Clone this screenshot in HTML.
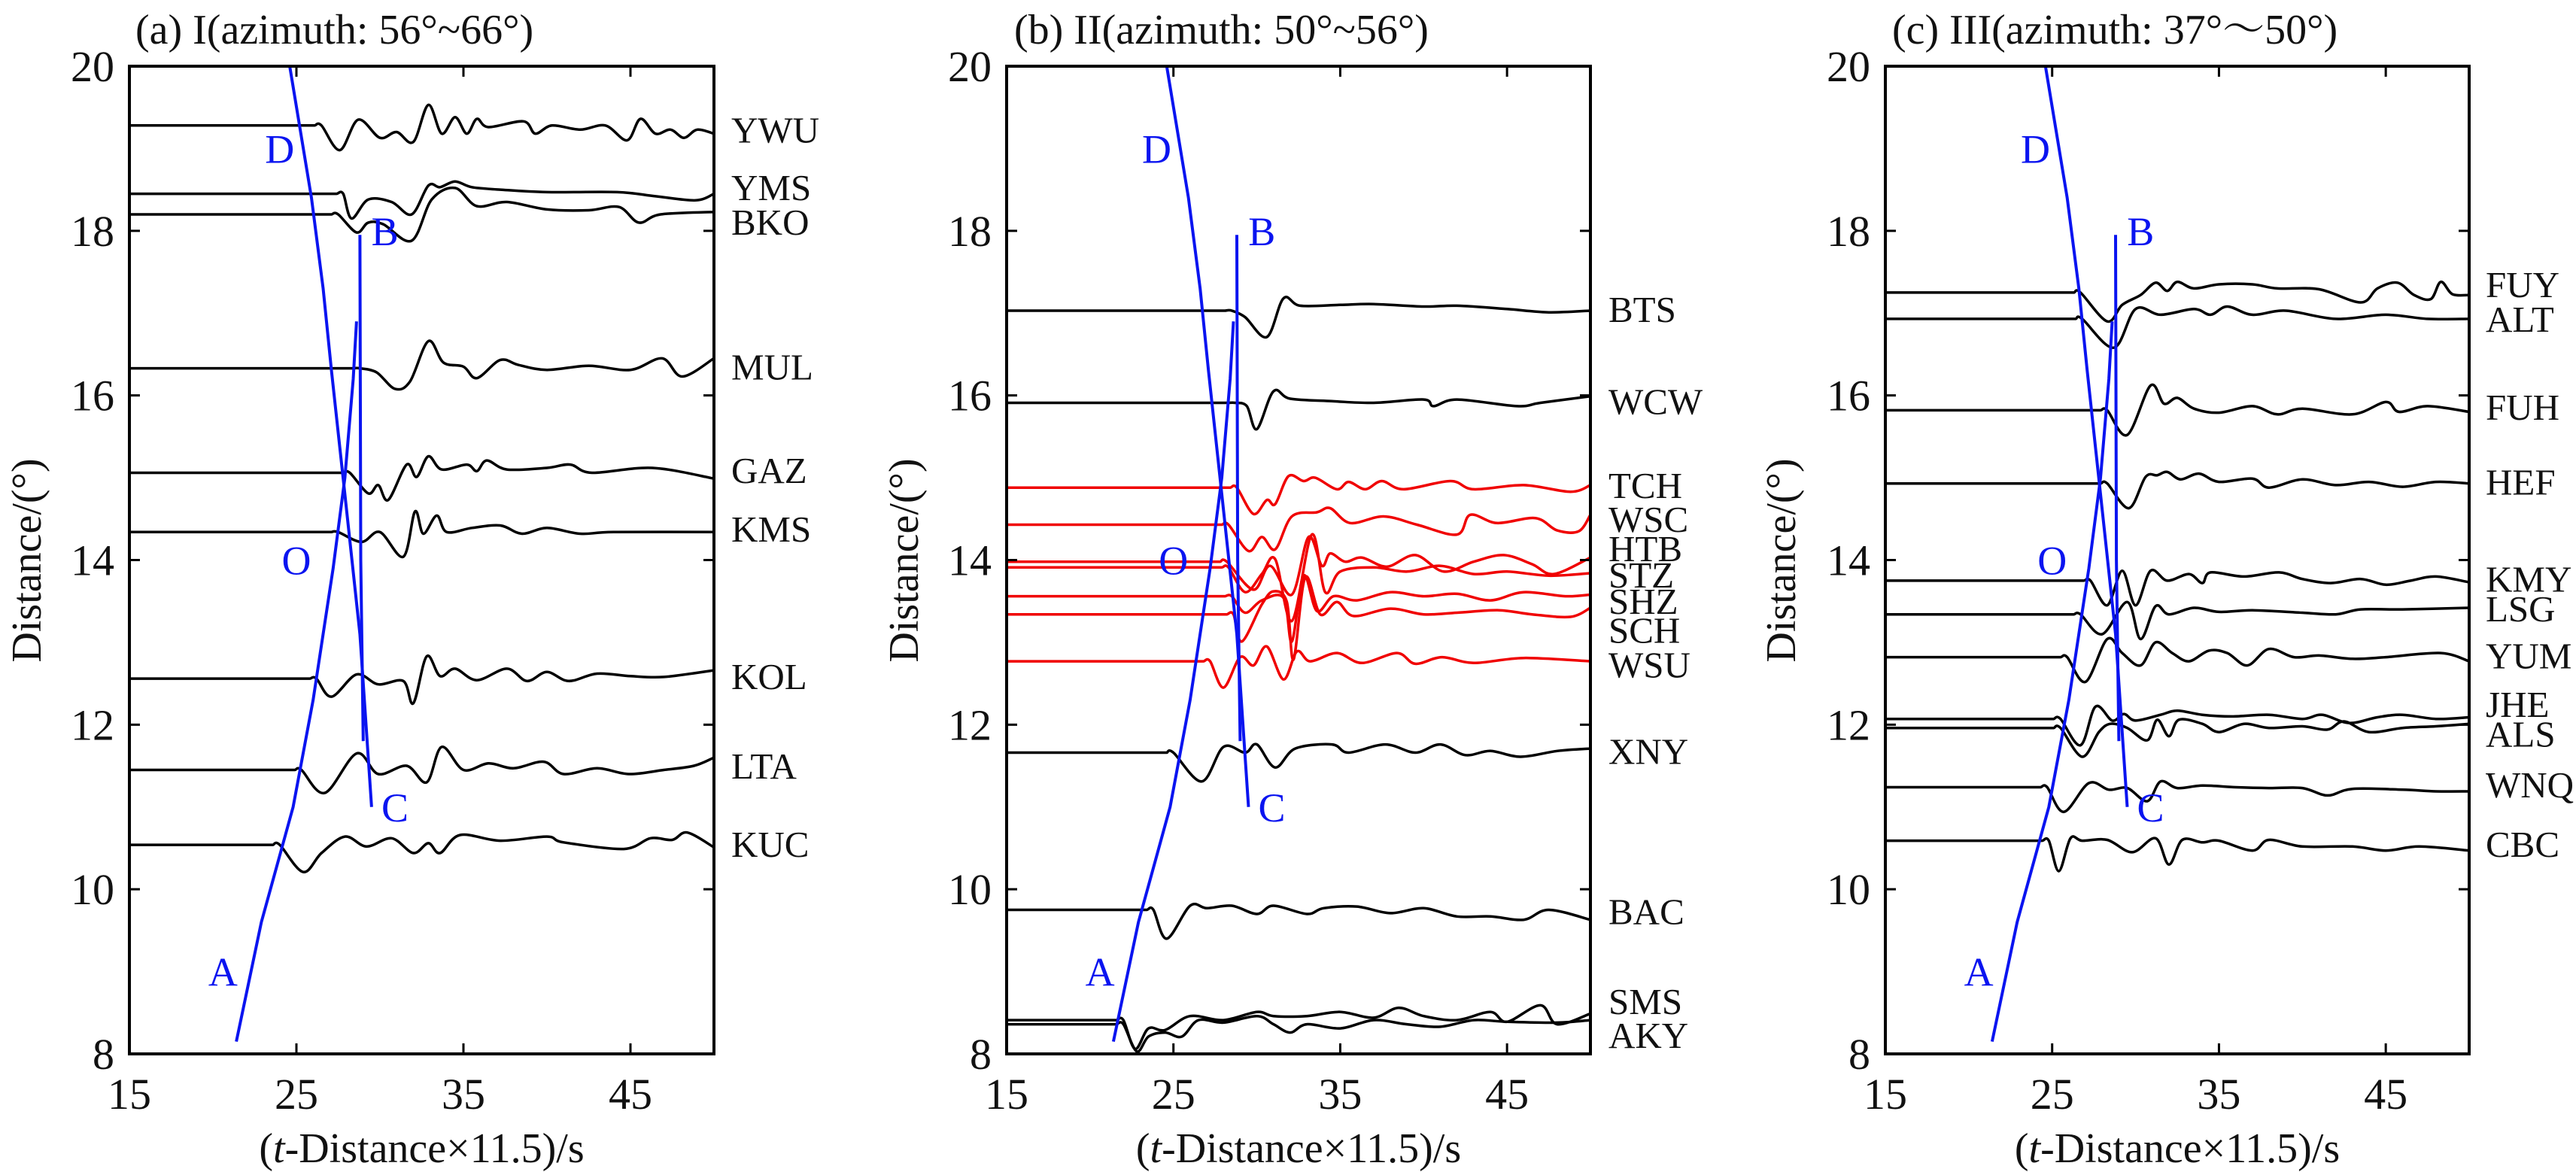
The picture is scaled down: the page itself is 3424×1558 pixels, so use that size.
<!DOCTYPE html>
<html><head><meta charset="utf-8">
<style>
html,body{margin:0;padding:0;background:#fff;}
svg{display:block;}
text{font-family:"Liberation Serif","Noto Serif CJK SC",serif;fill:#111;}
</style></head>
<body>
<svg id="chart" width="3424" height="1558" viewBox="0 0 3424 1558" xmlns="http://www.w3.org/2000/svg"></svg>
<script>
// ---- data ----
const xTicks=[15,25,35,45];
const yTicks=[8,10,12,14,16,18,20];
const panelTitles=["(a) I(azimuth: 56°~66°)","(b) II(azimuth: 50°~56°)","(c) III(azimuth: 37°～50°)"];
// panel a
const aNames=["YWU","YMS","BKO","MUL","GAZ","KMS","KOL","LTA","KUC"];
const aBase=[19.28,18.45,18.2,16.33,15.06,14.34,12.56,11.45,10.54];
const aLabelD=[19.23,18.53,18.11,16.35,15.09,14.38,12.59,11.5,10.55];
const aWaves=[
[[26.5,0],[27.6,-0.3],[28.7,0.07],[30,-0.15],[31,-0.08],[32,-0.2],[32.9,0.25],[33.7,-0.1],[34.5,0.1],[35.2,-0.1],[35.8,0.08],[36.5,-0.02],[38.6,0.05],[39.3,-0.1],[40.3,0],[42,-0.05],[43.5,0],[44.8,-0.18],[45.6,0.08],[46.5,-0.1],[47.4,-0.05],[48.2,-0.15],[49,-0.05],[50,-0.1]],
[[27.8,0],[28.3,-0.3],[29.3,-0.07],[30.7,-0.1],[31.9,-0.25],[32.9,0.1],[33.6,0.08],[34.5,0.15],[35.5,0.08],[37.2,0.05],[40,0.02],[44.2,0.02],[46.5,-0.03],[48.9,-0.08],[50,0]],
[[27.5,0],[28.6,-0.22],[29.3,-0.1],[30.2,-0.12],[31.9,-0.32],[33.1,0.18],[34.5,0.32],[35.8,0.1],[37.6,0.15],[40,0.06],[42.5,0.05],[44.3,0.09],[45.5,-0.1],[46.8,0],[50,0.03]],
[[28.8,0],[29.8,-0.05],[30.9,-0.25],[31.8,-0.16],[32.9,0.33],[33.8,0.07],[35,0.02],[35.8,-0.12],[37.2,0.1],[38.3,0.04],[40,-0.02],[42.5,0.03],[45,-0.02],[46.9,0.12],[48.1,-0.1],[50,0.12]],
[[28.2,0],[29.3,-0.25],[29.9,-0.15],[30.5,-0.33],[31.6,0.1],[32.2,-0.05],[32.9,0.2],[33.7,0.04],[35.2,0.1],[35.8,0.02],[36.4,0.15],[37.6,0.04],[40,0.06],[41.4,0.1],[42.7,0],[46.3,0.06],[50,-0.07]],
[[27.5,0],[28.9,-0.12],[30,0.0],[31.4,-0.3],[32.1,0.25],[32.6,-0.02],[33.4,0.2],[34,0],[35.5,0.05],[37.2,0.08],[38.5,-0.02],[40,0.05],[42,-0.02],[44,0],[50,0]],
[[26.2,0],[27.1,-0.22],[28.6,0.05],[29.9,-0.07],[31.4,-0.03],[32,-0.3],[32.8,0.27],[33.6,0.03],[34.5,0.12],[35.8,-0.02],[37.6,0.12],[38.8,-0.03],[40,0.08],[41.3,-0.03],[43,0.06],[45,0.03],[47,0.02],[50,0.1]],
[[25.3,0],[26.7,-0.28],[28.6,0.2],[29.9,-0.05],[31.6,0.05],[32.8,-0.15],[33.7,0.28],[35,0],[36.5,0.08],[38,0.02],[39.8,0.1],[41,-0.05],[43,0.02],[44.9,-0.05],[47,0],[48.8,0.05],[50,0.15]],
[[24,0],[25.4,-0.33],[26.5,-0.1],[27.9,0.1],[29.2,-0.02],[30.7,0.08],[32,-0.1],[32.9,0.02],[33.6,-0.1],[34.8,0.12],[37.2,0.05],[40,0.1],[41,0.03],[44.6,-0.05],[46.2,0.08],[47.5,0.06],[48.4,0.15],[50,-0.03]]
];
const aColors=["k","k","k","k","k","k","k","k","k"];
// panel b
const bNames=["BTS","WCW","TCH","WSC","HTB","STZ","SHZ","SCH","WSU","XNY","BAC","SMS","AKY"];
const bBase=[17.03,15.91,14.88,14.43,13.98,13.91,13.56,13.34,12.77,11.66,9.75,8.41,8.36];
const bLabelD=[17.05,15.93,14.91,14.5,14.14,13.82,13.5,13.15,12.73,11.68,9.73,8.64,8.23];
const bWaves=[
[[28.5,0],[29.3,-0.08],[30.6,-0.32],[31.6,0.15],[32.6,0.06],[35,0.07],[37,0.08],[40,0.05],[42,0.06],[45,0.02],[47.5,-0.02],[50,0]],
[[28.7,0],[29.4,-0.04],[30,-0.32],[31,0.14],[32,0.05],[34.5,0.02],[37,0],[40,0.04],[40.6,-0.04],[42,0.04],[45.6,-0.04],[47,0],[50,0.08]],
[[28.8,0],[29.8,-0.32],[30.6,-0.15],[31.1,-0.2],[31.9,0.14],[32.8,0.08],[33.5,0.12],[34.8,-0.02],[35.5,0.07],[36.5,-0.02],[37.5,0.08],[38.8,-0.02],[41.6,0.08],[43,-0.02],[46,0.03],[48.8,-0.05],[50,0.03]],
[[28.3,0],[29.5,-0.32],[30.3,-0.15],[31.1,-0.3],[32.1,0.1],[33.6,0.15],[34.4,0.2],[35.6,0.02],[37.6,0.1],[39.6,0],[42,-0.12],[42.8,0.12],[44.4,0.02],[46.7,0.08],[48,-0.07],[49.3,-0.08],[50,0.12]],
[[28.2,0],[29.8,-0.34],[30.8,-0.05],[32.1,-0.4],[33.1,0.3],[33.9,-0.05],[34.4,0.1],[35.3,0],[36.3,0.05],[37.8,-0.06],[39.5,0.08],[41.2,-0.12],[43,0],[44.8,0.08],[46.5,-0.03],[47.8,-0.15],[50,0.05]],
[[28.3,0],[29.3,-0.3],[30.3,-0.08],[31.1,0.1],[32.1,-0.65],[33.3,0.4],[34.1,-0.3],[35,-0.05],[37,0],[39,-0.05],[41,0.02],[43,-0.08],[45,-0.05],[47.5,-0.1],[50,-0.07]],
[[28.5,0],[29.3,-0.2],[30.3,-0.05],[31.6,-0.02],[32.1,-0.55],[32.8,0.25],[33.6,-0.18],[34.6,0],[36,-0.05],[38,0.05],[40,0],[42,0.03],[44,-0.05],[46,0.05],[48.5,0],[50,0.02]],
[[28.6,0],[29.1,-0.33],[30.3,0.12],[31,0.28],[31.8,0.15],[32.2,-0.55],[32.9,0.45],[33.8,0],[34.8,0.15],[35.8,-0.02],[38,0.07],[40,0],[42,0.02],[44.5,0.05],[46.5,0],[48.8,-0.03],[50,0.08]],
[[27.2,0],[28,-0.32],[29,0.05],[29.8,-0.05],[30.6,0.18],[31.6,-0.22],[32.4,0.12],[33.2,0],[34.8,0.1],[36.3,-0.02],[38.4,0.1],[39.5,-0.03],[41.1,0.05],[43,-0.02],[46,0.04],[50,0]],
[[25,0],[26.7,-0.35],[28,0.07],[29.3,0],[30,0.1],[31.1,-0.18],[32.3,0.05],[34.5,0.1],[35.5,0],[37.7,0.1],[39.5,0],[41,0.1],[42.5,-0.03],[44,0.02],[45.8,-0.05],[48,0.02],[50,0.05]],
[[23.8,0],[24.6,-0.35],[26,0.05],[27,0.02],[28.5,0.05],[30,-0.05],[31,0.05],[33,-0.05],[34,0.02],[36,0.04],[38,-0.04],[40,0.02],[42,-0.08],[44,-0.08],[46,-0.12],[47.5,0],[50,-0.12]],
[[22,0],[22.7,-0.35],[23.5,-0.1],[24.5,-0.12],[26,0.05],[28,0],[30,0.1],[31,0.05],[33,0.05],[35,0.1],[37,0.03],[38.5,0.15],[40,0.05],[42,0],[44,0.1],[45,-0.02],[47,0.18],[48,-0.05],[50,0.08]],
[[22,0],[22.8,-0.33],[23.5,-0.15],[24.5,-0.1],[25.5,-0.15],[26.5,0.05],[28,0.02],[30,0.1],[31,0],[32,-0.1],[33,0],[35,-0.05],[37,0.05],[39,0],[41,-0.03],[43,0.05],[45,0.03],[48,0.02],[50,0.05]]
];
const bColors=["k","k","r","r","r","r","r","r","r","k","k","k","k"];
// panel c
const cNames=["FUY","ALT","FUH","HEF","KMY","LSG","YUM","JHE","ALS","WNQ","CBC"];
const cBase=[17.25,16.93,15.82,14.93,13.75,13.34,12.82,12.07,11.96,11.29,10.62];
const cLabelD=[17.35,16.93,15.86,14.95,13.77,13.41,12.84,12.25,11.89,11.27,10.55];
const cWaves=[
[[26.7,0],[28.3,-0.35],[29.2,-0.15],[30.3,-0.03],[31.2,0.12],[31.9,0.02],[32.5,0.13],[33.5,0.05],[35,0.1],[37,0.1],[38.5,0.05],[41,0.04],[43.5,-0.12],[44.5,0.05],[45.7,0.12],[46.7,-0.03],[47.7,-0.08],[48.3,0.13],[49,-0.02],[50,-0.03]],
[[26.8,0],[28.7,-0.35],[30,0.12],[31.5,0.05],[33.5,0.12],[34.5,0.05],[35.5,0.15],[37,0.05],[39,0.1],[42,0],[45,0.05],[47.5,0],[50,0]],
[[28.3,0],[29.5,-0.3],[30.9,0.3],[31.7,0.08],[32.5,0.15],[33.5,0.02],[35,-0.03],[37,0.05],[38.5,-0.05],[40,0.02],[43,-0.05],[45,0.1],[45.8,-0.02],[47.5,0.05],[50,-0.02]],
[[28.3,0],[29.6,-0.3],[30.6,0.08],[31.3,0.1],[31.9,0.14],[32.7,0.05],[33.8,0.12],[35,0.02],[37,0.06],[38,-0.05],[40,0.05],[42,-0.02],[44,0.02],[46,-0.04],[48,0.02],[50,0]],
[[27.3,0],[28.3,-0.3],[29.2,0.12],[30,-0.3],[30.9,0.12],[31.9,0],[33.2,0.08],[34,-0.03],[34.5,0.1],[36.5,0.05],[38.6,0.1],[40,0.02],[41.7,-0.03],[43.5,0.02],[45,-0.05],[46.5,0],[48,0.05],[50,-0.02]],
[[26.7,0],[28,-0.24],[29.5,0.15],[30.3,-0.3],[31.2,0.1],[32,0],[33.5,0.08],[35,0.03],[37,0.05],[40,0.02],[42,0],[43.5,0.06],[46,0.06],[50,0.08]],
[[25.9,0],[27,-0.3],[28.3,0.22],[29.2,0.05],[30.3,-0.1],[31.2,0.18],[32.2,0.05],[33.2,-0.05],[34.4,0.08],[35.5,0.05],[36.7,-0.1],[38,0.1],[39.5,0],[41,0.02],[43,-0.02],[45,0],[48.3,0.05],[50,-0.05]],
[[25.5,0],[26.7,-0.32],[27.6,0.15],[28.6,-0.02],[29.3,0.06],[30,-0.02],[31.5,0.05],[32.5,0.1],[34,0.05],[35.8,0.03],[38,0.05],[40,0],[41.2,0.05],[42.8,-0.05],[44.5,0.02],[46,0.05],[48,0],[50,0.02]],
[[25.5,0],[26.8,-0.35],[27.8,-0.05],[28.5,0.05],[29.5,0],[30.7,-0.15],[31.3,0.1],[32,-0.1],[32.6,0.1],[34,0.05],[35,-0.05],[36.5,0.05],[38,0],[40,0.02],[41.5,-0.02],[42.5,0.08],[44,-0.05],[46,0],[48,0.02],[50,0.05]],
[[24.7,-0.05],[25.7,-0.35],[27.2,0],[28.4,-0.08],[29.5,-0.06],[30.7,-0.22],[31.5,0.02],[32.5,-0.06],[34,-0.03],[36,-0.05],[38,-0.06],[40,-0.06],[41.5,-0.15],[43,-0.07],[46,-0.08],[48,-0.1],[50,-0.1]],
[[24.8,-0.03],[25.4,-0.4],[26.1,0],[26.8,-0.03],[28.3,-0.02],[29.8,-0.17],[31.2,0],[32,-0.32],[32.8,-0.02],[34,-0.05],[35,-0.03],[37,-0.15],[38,-0.02],[40,-0.1],[43,-0.1],[45,-0.15],[47,-0.1],[50,-0.15]]
];
const cColors=["k","k","k","k","k","k","k","k","k","k","k"];
// blue travel-time branches (t, distance)
const branchAO=[[21.4,8.15],[22.9,9.6],[24.8,11.0],[26.0,12.3],[27.2,13.9],[27.9,15.0],[28.4,16.2],[28.6,16.9]];
const branchDC=[[24.6,20.0],[25.9,18.4],[26.6,17.3],[27.1,16.3],[27.9,14.8],[28.8,13.1],[29.5,11.0]];
const branchB=[[28.8,17.95],[28.85,14.0],[29.0,11.8]];
const markLabels=["A","D","O","B","C"];
const markT=[20.6,24.0,25.0,30.3,30.9];
const markD=[9.0,19.0,14.0,18.0,11.0];

// ---- layout ----
const NS="http://www.w3.org/2000/svg";
const svg=document.getElementById('chart');
const panels=[
 {L:172,R:949,names:aNames,base:aBase,lab:aLabelD,waves:aWaves,cols:aColors,labX:972,titleX:180,yTitleX:34,key:'a'},
 {L:1338,R:2114,names:bNames,base:bBase,lab:bLabelD,waves:bWaves,cols:bColors,labX:2138,titleX:1348,yTitleX:1200,key:'b'},
 {L:2506,R:3282,names:cNames,base:cBase,lab:cLabelD,waves:cWaves,cols:cColors,labX:3304,titleX:2515,yTitleX:2366,key:'c'}
];
const TOP=88,BOT=1401;
function el(tag,attrs,parent){const e=document.createElementNS(NS,tag);for(const k in attrs)e.setAttribute(k,attrs[k]);(parent||svg).appendChild(e);return e;}
function smooth(pts){
 let d="M"+pts[0][0].toFixed(1)+","+pts[0][1].toFixed(1);
 for(let i=0;i<pts.length-1;i++){
  const p0=pts[Math.max(0,i-1)],p1=pts[i],p2=pts[i+1],p3=pts[Math.min(pts.length-1,i+2)];
  const c1=[p1[0]+(p2[0]-p0[0])/6,p1[1]+(p2[1]-p0[1])/6];
  const c2=[p2[0]-(p3[0]-p1[0])/6,p2[1]-(p3[1]-p1[1])/6];
  d+=" C"+c1[0].toFixed(1)+","+c1[1].toFixed(1)+" "+c2[0].toFixed(1)+","+c2[1].toFixed(1)+" "+p2[0].toFixed(1)+","+p2[1].toFixed(1);
 }
 return d;
}
panels.forEach((P,pi)=>{
 const xs=t=>P.L+(t-15)/(50-15)*(P.R-P.L);
 const ys=v=>BOT-(v-8)/(20-8)*(BOT-TOP);
 const g=el('g',{});
 
 
 const title=el('text',{x:P.titleX,y:58,'font-size':56},g);
 title.textContent=panelTitles[pi];
 
 
 // traces
 P.waves.forEach((w,i)=>{
  const b=P.base[i];
  const pts=[];
  const on=w[0][0]-0.4;
  for(let t=15;t<on;t+=0.5) pts.push([xs(t),ys(b+w[0][1])]);
  pts.push([xs(on),ys(b+w[0][1])]);
  w.forEach(p=>pts.push([xs(p[0]),ys(b+p[1])]));
  const path=el('path',{d:smooth(pts),fill:'none',stroke:P.cols[i]==='r'?'#f00000':'#000','stroke-width':3.5,'stroke-linejoin':'round'},g);
  
  
  const t=el('text',{x:P.labX,y:ys(P.lab[i])+17,'font-size':49},g);
  t.textContent=P.names[i];
  
  
 });
 // blue branches
 [[branchAO,'branch-a-o'],[branchDC,'branch-d-c'],[branchB,'branch-b']].forEach(([br,nm])=>{
  const d="M"+br.map(p=>xs(p[0]).toFixed(1)+","+ys(p[1]).toFixed(1)).join(" L");
  const bp=el('path',{d:d,fill:'none',stroke:'#0a14f0','stroke-width':4},g);
  
  
 });
 markLabels.forEach((m,i)=>{
  const t=el('text',{x:xs(markT[i]),y:ys(markD[i])+19,'font-size':54,'text-anchor':'middle',style:'fill:#0a14f0'},g);
  t.textContent=m;
  
  
 });
 // axes box
 const box=el('rect',{x:P.L,y:TOP,width:P.R-P.L,height:BOT-TOP,fill:'none',stroke:'#000','stroke-width':4},g);
 
 
 xTicks.forEach(v=>{
  const x=xs(v);
  const tk=el('path',{d:`M${x},${BOT} v-14 M${x},${TOP} v14`,stroke:'#000','stroke-width':3},g);
  
  
  const t=el('text',{x:x,y:1474,'font-size':58,'text-anchor':'middle'},g);
  t.textContent=v;
  
  
 });
 yTicks.forEach(v=>{
  const y=ys(v);
  const tk=el('path',{d:`M${P.L},${y} h14 M${P.R},${y} h-14`,stroke:'#000','stroke-width':3},g);
  
  
  const t=el('text',{x:P.L-20,y:y+20,'font-size':58,'text-anchor':'end'},g);
  t.textContent=v;
  
  
 });
 const xt=el('text',{x:(P.L+P.R)/2,y:1545,'font-size':56,'text-anchor':'middle'},g);
 xt.innerHTML='(<tspan font-style="italic">t</tspan>-Distance×11.5)/s';
 
 
 const yt=el('text',{x:0,y:0,'font-size':56,'text-anchor':'middle',transform:`translate(${P.yTitleX+20},745) rotate(-90)`},g);
 yt.textContent='Distance/(°)';
 
 
});
</script>
</body></html>
